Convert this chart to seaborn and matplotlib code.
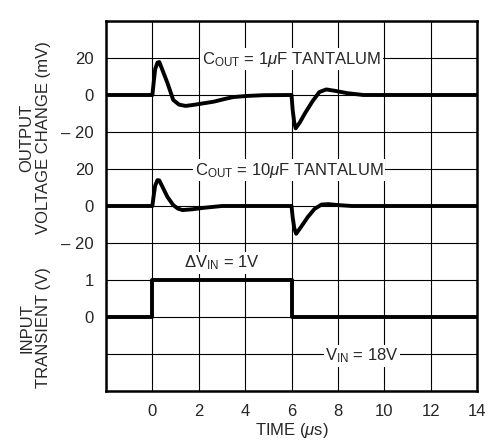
import numpy as np
import pandas as pd
import matplotlib
matplotlib.use("Agg")
import matplotlib.pyplot as plt
from matplotlib import font_manager
import seaborn as sns

# ---- data ----
t_1uF = [-2, 0, 0.05, 0.12, 0.22, 0.3, 0.45, 0.65, 0.9, 1.15, 1.43, 1.8, 2.2, 2.65, 3.1, 3.5, 4.1, 4.8, 6.0,
         6.05, 6.12, 6.18, 6.35, 6.6, 6.9, 7.2, 7.5, 7.9, 8.4, 9.1, 14]
v_1uF = [0, 0, 6, 14, 17.5, 17.8, 13, 6.5, -2.7, -5.2, -5.9, -5.3, -4.5, -3.6, -2.2, -1.1, -0.5, -0.1, 0,
         -8, -15, -18, -15, -9.5, -3.5, 1.6, 3.0, 2.2, 1.0, 0, 0]

t_10uF = [-2, 0, 0.05, 0.12, 0.22, 0.3, 0.45, 0.65, 0.9, 1.1, 1.3, 1.7, 2.2, 3.0, 6.0,
          6.05, 6.12, 6.2, 6.4, 6.7, 7.0, 7.3, 7.6, 8.0, 8.6, 14]
v_10uF = [0, 0, 5, 11, 14, 13.8, 10, 4.9, 0.5, -1.4, -2.2, -1.8, -1.0, 0, 0,
          -6, -12, -15, -11.5, -6, -1.5, 0.8, 1.0, 0.5, 0, 0]

t_in = [-2, 0, 0, 6, 6, 14]
v_in = [0, 0, 1, 1, 0, 0]

x_ticks = [-2, 0, 2, 4, 6, 8, 10, 12, 14]
x_labels = ["", "0", "2", "4", "6", "8", "10", "12", "14"]
y_labels = ["", "", "0", "1", "\u2013 20", "0", "20", "\u2013 20", "0", "20", ""]

# offsets of each trace in grid units (20 mV per division, 1 V per division)
MV_PER_DIV = 20.0
OFF_1 = 8
OFF_10 = 5
OFF_IN = 2

df = pd.concat([
    pd.DataFrame({"t": t_1uF, "y": np.array(v_1uF) / MV_PER_DIV + OFF_1, "trace": "1uF"}),
    pd.DataFrame({"t": t_10uF, "y": np.array(v_10uF) / MV_PER_DIV + OFF_10, "trace": "10uF"}),
    pd.DataFrame({"t": t_in, "y": np.array(v_in) + OFF_IN, "trace": "in"}),
], ignore_index=True)

sns.set_style("white")
names = {f.name for f in font_manager.fontManager.ttflist}
narrow = "Liberation Sans Narrow" in names
base = "Liberation Sans Narrow" if narrow else "Liberation Sans"
FS = 13 if narrow else 12
plt.rcParams["font.family"] = [base, "DejaVu Sans"]
plt.rcParams["mathtext.fontset"] = "custom"
plt.rcParams["mathtext.rm"] = base
plt.rcParams["mathtext.it"] = base + ":italic"
plt.rcParams["mathtext.bf"] = base + ":bold"

fig = plt.figure(figsize=(4.91, 4.45), dpi=100)
ax = fig.add_axes([106 / 491, 1 - 391 / 445, (477 - 106) / 491, (391 - 21) / 445])

for name in ["1uF", "10uF", "in"]:
    sns.lineplot(data=df[df.trace == name], x="t", y="y", ax=ax, color="black",
                 lw=2.8, estimator=None, sort=False, legend=False, zorder=3)

ax.set_xlim(-2, 14)
ax.set_ylim(0, 10)
ax.set_xticks(x_ticks)
ax.set_xticklabels(x_labels)
ax.set_yticks(range(0, 11))
ax.set_yticklabels(y_labels)
ax.tick_params(length=0, labelsize=FS, pad=9)
ax.grid(True, color="black", lw=0.8)
ax.set_axisbelow(True)
for s in ax.spines.values():
    s.set_color("black")
    s.set_linewidth(1.8)
ax.set_xlabel("TIME ($\\mu$s)", fontsize=FS, labelpad=2)
ax.set_ylabel("")

bbox = dict(facecolor="white", edgecolor="none", pad=1.0)
ax.text(6.0, 8.97, "C$_{\\mathrm{OUT}}$ = 1$\\mu$F TANTALUM", ha="center", va="center",
        fontsize=FS, bbox=bbox, zorder=4)
ax.text(5.9, 5.97, "C$_{\\mathrm{OUT}}$ = 10$\\mu$F TANTALUM", ha="center", va="center",
        fontsize=FS, bbox=bbox, zorder=4)
ax.text(3.0, 3.46, "$\\Delta$V$_{\\mathrm{IN}}$ = 1V", ha="center", va="center",
        fontsize=FS, bbox=bbox, zorder=4)
ax.text(9.03, 0.95, "V$_{\\mathrm{IN}}$ = 18V", ha="center", va="center",
        fontsize=FS, bbox=bbox, zorder=4)

fig.text(35 / 491, 1 - 138 / 445, "OUTPUT\nVOLTAGE CHANGE (mV)", rotation=90,
         ha="center", va="center", fontsize=FS, linespacing=1.15)
fig.text(35 / 491, 1 - 328 / 445, "INPUT\nTRANSIENT (V)", rotation=90,
         ha="center", va="center", fontsize=FS, linespacing=1.15)

fig.savefig("out.png", dpi=100, facecolor="white")
